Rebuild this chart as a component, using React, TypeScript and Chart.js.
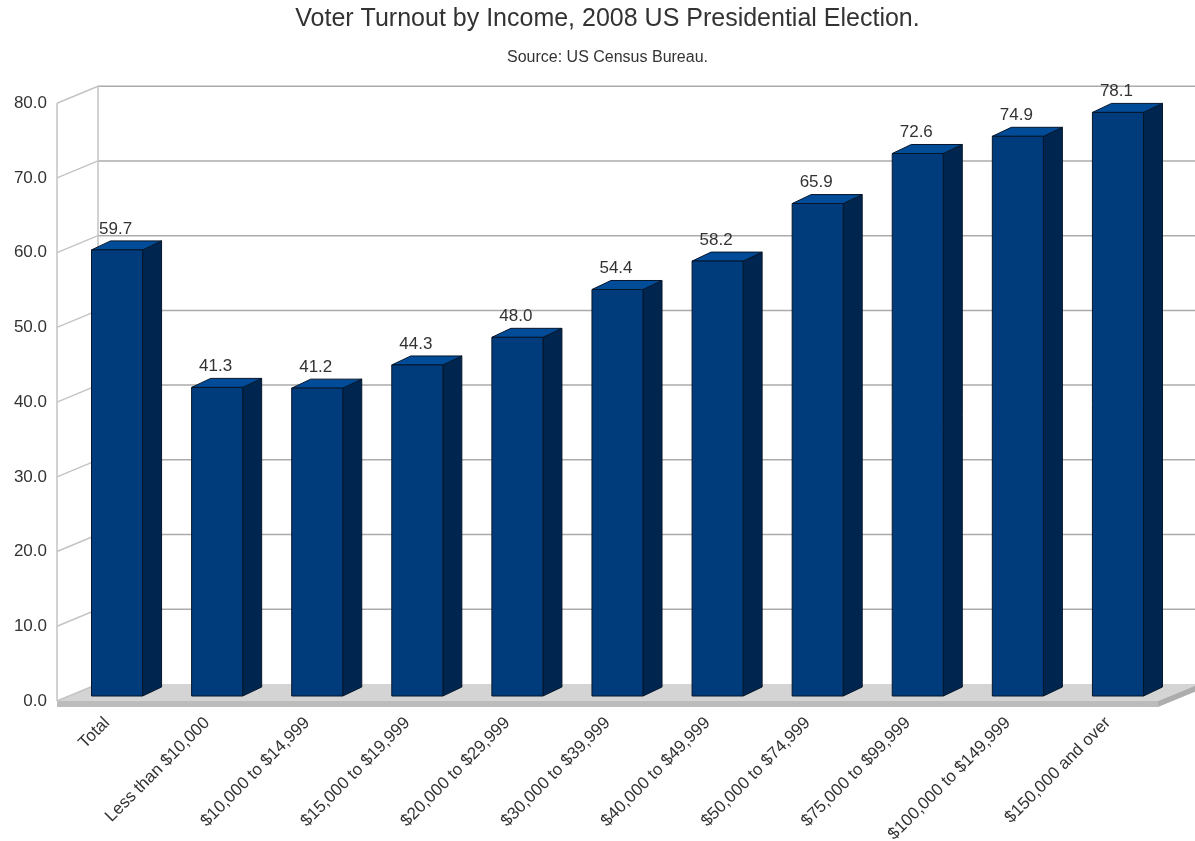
import React, { useEffect, useRef } from "react";
import { Chart, registerables } from "chart.js";

Chart.register(...registerables);

const TITLE = "Voter Turnout by Income, 2008 US Presidential Election.";
const SUBTITLE = "Source: US Census Bureau.";
const categories = [
  "Total",
  "Less than $10,000",
  "$10,000 to $14,999",
  "$15,000 to $19,999",
  "$20,000 to $29,999",
  "$30,000 to $39,999",
  "$40,000 to $49,999",
  "$50,000 to $74,999",
  "$75,000 to $99,999",
  "$100,000 to $149,999",
  "$150,000 and over",
];
const turnout = [59.7, 41.3, 41.2, 44.3, 48.0, 54.4, 58.2, 65.9, 72.6, 74.9, 78.1];
const yMin = 0;
const yMax = 80;
const yStep = 10;

const TEXT = "#333333";
const FONT = "'Liberation Sans', Arial, sans-serif";

// 3D geometry offsets (pixels)
const BACK = { dx: 41, dy: -17 };
const BAR_OFF = { dx: 10, dy: -5 };
const BAR_DEPTH = { dx: 19, dy: -9 };

const wallsPlugin = {
  id: "walls3d",
  beforeDatasetsDraw(chart: any) {
    const { ctx, chartArea } = chart;
    const ys = chart.scales.y;
    const L = chartArea.left, R = chartArea.right, B = chartArea.bottom, T = chartArea.top;
    ctx.save();
    // floor
    ctx.fillStyle = "#d4d4d4";
    ctx.beginPath();
    ctx.moveTo(L, B);
    ctx.lineTo(L + BACK.dx, B + BACK.dy);
    ctx.lineTo(R + BACK.dx, B + BACK.dy);
    ctx.lineTo(R, B);
    ctx.closePath();
    ctx.fill();
    // floor front thickness
    ctx.fillStyle = "#bcbcbc";
    ctx.fillRect(L, B, R - L, 6);
    ctx.fillStyle = "#adadad";
    ctx.beginPath();
    ctx.moveTo(R, B);
    ctx.lineTo(R + BACK.dx, B + BACK.dy);
    ctx.lineTo(R + BACK.dx, B + BACK.dy + 6);
    ctx.lineTo(R, B + 6);
    ctx.closePath();
    ctx.fill();

    // back wall gridlines
    ctx.lineWidth = 1.5;
    ctx.strokeStyle = "#ababab";
    for (let v = yMin + yStep; v <= yMax; v += yStep) {
      const y = ys.getPixelForValue(v) + BACK.dy;
      ctx.beginPath();
      ctx.moveTo(L + BACK.dx, y);
      ctx.lineTo(R + BACK.dx, y);
      ctx.stroke();
    }
    // left wall
    ctx.strokeStyle = "#c4c4c4";
    ctx.lineWidth = 1.5;
    ctx.beginPath();
    ctx.moveTo(L, T);
    ctx.lineTo(L, B);
    ctx.moveTo(L + BACK.dx, T + BACK.dy);
    ctx.lineTo(L + BACK.dx, B + BACK.dy);
    ctx.stroke();
    for (let v = yMin; v <= yMax; v += yStep) {
      const y = ys.getPixelForValue(v);
      ctx.beginPath();
      ctx.moveTo(L, y);
      ctx.lineTo(L + BACK.dx, y + BACK.dy);
      ctx.stroke();
    }
    ctx.restore();
  },
};

const bars3dPlugin = {
  id: "bars3d",
  afterDatasetsDraw(chart: any) {
    const { ctx } = chart;
    const meta = chart.getDatasetMeta(0);
    ctx.save();
    meta.data.forEach((el: any, i: number) => {
      const w = el.width;
      const xl = el.x - w / 2 + BAR_OFF.dx;
      const xr = el.x + w / 2 + BAR_OFF.dx;
      const top = el.y + BAR_OFF.dy;
      const bot = el.base + BAR_OFF.dy;
      ctx.lineWidth = 1;
      ctx.strokeStyle = "#06162b";
      ctx.lineJoin = "round";
      // side
      ctx.fillStyle = "#00264f";
      ctx.beginPath();
      ctx.moveTo(xr, top);
      ctx.lineTo(xr + BAR_DEPTH.dx, top + BAR_DEPTH.dy);
      ctx.lineTo(xr + BAR_DEPTH.dx, bot + BAR_DEPTH.dy);
      ctx.lineTo(xr, bot);
      ctx.closePath();
      ctx.fill();
      ctx.stroke();
      // top
      ctx.fillStyle = "#004c98";
      ctx.beginPath();
      ctx.moveTo(xl, top);
      ctx.lineTo(xl + BAR_DEPTH.dx, top + BAR_DEPTH.dy);
      ctx.lineTo(xr + BAR_DEPTH.dx, top + BAR_DEPTH.dy);
      ctx.lineTo(xr, top);
      ctx.closePath();
      ctx.fill();
      ctx.stroke();
      // front
      ctx.fillStyle = "#003c7c";
      ctx.beginPath();
      ctx.rect(xl, top, w, bot - top);
      ctx.fill();
      ctx.stroke();
      // value label
      ctx.fillStyle = TEXT;
      ctx.font = `17px ${FONT}`;
      ctx.textAlign = "center";
      ctx.textBaseline = "middle";
      ctx.fillText(turnout[i].toFixed(1), el.x + 8.5, el.y - 26);
    });
    ctx.restore();
  },
};

export default function App() {
  const ref = useRef<HTMLCanvasElement | null>(null);
  useEffect(() => {
    document.body.style.margin = "0";
    const canvas = ref.current!;
    const chart = new Chart(canvas, {
      type: "bar",
      data: {
        labels: categories,
        datasets: [
          {
            data: turnout,
            backgroundColor: "rgba(0,0,0,0)",
            borderWidth: 0,
            barPercentage: 0.51,
            categoryPercentage: 1,
          },
        ],
      },
      options: {
        animation: false,
        responsive: false,
        maintainAspectRatio: false,
        layout: { padding: { top: 0, right: 37, bottom: 0, left: 0 } },
        plugins: {
          legend: { display: false },
          tooltip: { enabled: false },
          title: {
            display: true,
            fullSize: false,
            text: TITLE,
            color: TEXT,
            font: { family: FONT, size: 25, weight: "normal" },
            padding: { top: 4, bottom: 14 },
          },
          subtitle: {
            display: true,
            fullSize: false,
            text: SUBTITLE,
            color: TEXT,
            font: { family: FONT, size: 16, weight: "normal" },
            padding: { top: 0, bottom: 36 },
          },
        },
        scales: {
          x: {
            grid: { display: false, drawTicks: false },
            border: { display: false },
            ticks: {
              color: TEXT,
              font: { family: FONT, size: 17 },
              minRotation: 45,
              maxRotation: 45,
              autoSkip: false,
              padding: 12,
            },
            afterFit: (s: any) => {
              s.height = 140;
            },
          },
          y: {
            min: yMin,
            max: yMax,
            grid: { display: false, drawTicks: false },
            border: { display: false },
            ticks: {
              stepSize: yStep,
              color: TEXT,
              font: { family: FONT, size: 17 },
              padding: 10,
              callback: (v: any) => Number(v).toFixed(1),
            },
            afterFit: (s: any) => {
              s.width = 57;
            },
          },
        },
      },
      plugins: [wallsPlugin, bars3dPlugin],
    });
    return () => chart.destroy();
  }, []);
  return (
    <div style={{ width: 1195, height: 841, background: "#fff" }}>
      <canvas ref={ref} width={1195} height={841} style={{ display: "block" }} />
    </div>
  );
}
